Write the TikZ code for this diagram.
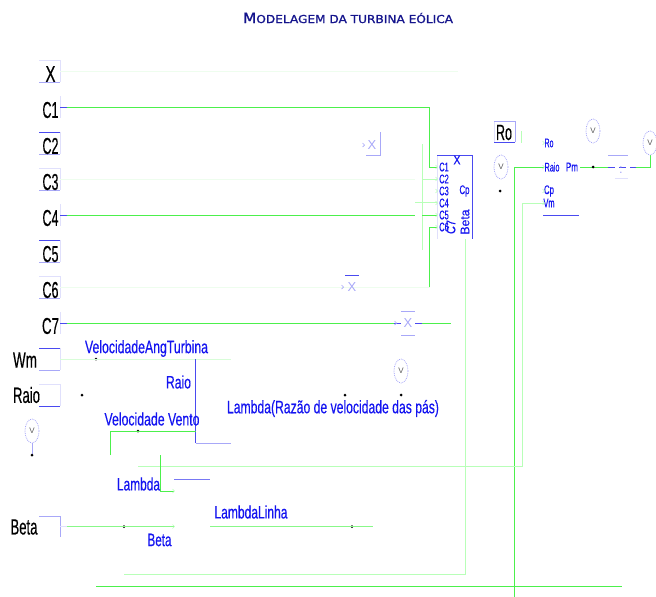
\documentclass[tikz,border=0pt]{standalone}
\usepackage{fontspec}
\usepackage{graphicx}
\setmainfont{Liberation Sans}
\newfontfamily\titlefont[FakeBold=1.2]{DejaVu Sans}
\newfontfamily\hvy[FakeBold=0.5]{Liberation Sans}
\usetikzlibrary{shapes.geometric}
\definecolor{gline}{HTML}{4CF04C}
\definecolor{gsoft}{HTML}{88F888}
\definecolor{gmid}{HTML}{B8FFB8}
\definecolor{gfaint}{HTML}{EEFDEE}
\definecolor{gpale}{HTML}{D8FDD8}
\definecolor{bline}{HTML}{4A4AF0}
\definecolor{bsoft}{HTML}{7878F4}
\definecolor{bmid}{HTML}{A8A8F8}
\definecolor{bfaint}{HTML}{E0E0FC}
\definecolor{lblue}{HTML}{1414F0}
\definecolor{navy}{HTML}{14148C}
\newcommand{\fw}[3]{\resizebox{#1pt}{\height}{\hvy\fontsize{#2}{#2}\selectfont #3}}
\tikzset{
  x=1pt,y=-1pt,
  wire/.style={draw=gline,line width=1pt},
  wiresoft/.style={draw=gsoft,line width=1pt},
  wiremid/.style={draw=gmid,line width=1pt},
  wirefaint/.style={draw=gfaint,line width=1pt},
  wirepale/.style={draw=gpale,line width=1pt},
  edge blue/.style={draw=bline,line width=1pt},
  edge soft/.style={draw=bsoft,line width=1pt},
  edge mid/.style={draw=bmid,line width=1pt},
  edge faint/.style={draw=bfaint,line width=1pt},
  lbl/.style={inner sep=0pt,text=lblue,anchor=center},
  blk/.style={inner sep=0pt,text=black,anchor=center},
  pin/.style={inner sep=0pt,text=lblue,anchor=center},
  dot/.style={circle,fill=black,inner sep=0pt,minimum size=3pt},
  probe/.style={ellipse,draw=bmid,densely dotted,line width=0.8pt,minimum width=14pt,minimum height=24pt,inner sep=0pt,text=black!65,font=\fontsize{8}{8}\selectfont},
  gainx/.style={inner sep=0pt,text=bmid,font=\fontsize{13}{13}\selectfont},
  chev/.style={draw=gmid,line width=0.6pt},
  chevb/.style={draw=bmid,line width=0.7pt}
}
\begin{document}
\begin{tikzpicture}
\useasboundingbox (0,0) rectangle (656,597);
% title
\node[inner sep=0pt,text=navy] (title) at (348,18) {\resizebox{210pt}{\height}{\titlefont{\fontsize{14}{14}\selectfont M}{\fontsize{11}{11}\selectfont ODELAGEM DA TURBINA EÓLICA}}};
% anchors
\coordinate (xin) at (60,71); \coordinate (xend) at (458,71);
\coordinate (c1in) at (67,107); \coordinate (c1t) at (429.5,107); \coordinate (c1b) at (429.5,167);
\coordinate (c3in) at (60,179); \coordinate (c3e) at (415,179); \coordinate (c3s) at (422,179);
\coordinate (c4in) at (67,215); \coordinate (c4e) at (415,215);
\coordinate (c6in) at (60,287); \coordinate (c6c) at (429.5,287); \coordinate (c6t) at (429.5,227);
\coordinate (c7in) at (67,323); \coordinate (c7a) at (394,323); \coordinate (c7b) at (422,323); \coordinate (c7e) at (451,323);
\coordinate (p1) at (437,167); \coordinate (p2) at (437,179); \coordinate (p3) at (437,191);
\coordinate (p4) at (437,202.5); \coordinate (p5) at (437,215); \coordinate (p6) at (437,227);
\coordinate (busa) at (422,144); \coordinate (busb) at (422,250); \coordinate (p5s) at (422,215);
\coordinate (p4s) at (415,202.5);
% block
\coordinate (bTL) at (437,155); \coordinate (bTR) at (472.5,155); \coordinate (bBR) at (472.5,239); \coordinate (bBL) at (437,239);
\draw[edge faint] (bTL) -- (bBL);
\draw[edge blue] (bTL) -- (bTR) -- (bBR);
% left input boxes
\foreach \n/\yy in {x/71,c3/179,c6/287}{
  \draw[edge faint] (39,\yy-11) -- (60,\yy-11) -- (60,\yy+11);
}
\draw[edge faint] (60,96) -- (60,118);
\draw[edge faint] (60,204) -- (60,226);
\draw[edge faint] (60,312) -- (60,334);
\draw[edge faint] (60,132) -- (60,154);
\draw[edge faint] (60,240) -- (60,262);
\draw[edge mid] (39,82) -- (60,82);
\draw[edge blue] (39,132) -- (60,132);
\draw[edge mid] (39,154) -- (60,154);
\draw[edge mid] (39,190) -- (60,190);
\draw[edge blue] (39,240) -- (60,240);
\draw[edge mid] (39,262) -- (60,262);
\draw[edge mid] (39,298) -- (60,298);
\draw[edge blue] (60,107) -- (c1in);
\draw[edge blue] (60,215) -- (c4in);
\draw[edge blue] (60,323) -- (c7in);
\foreach \t/\yy/\w in {X/74/10,C1/110/16,C2/146/16,C3/182/16,C4/218/16,C5/254/16,C6/290/16,C7/326/17}{
  \node[blk] (in\t) at (50.5,\yy) {\fw{\w}{23}{\t}};
}
% wires
\draw[wirefaint] (xin) -- (xend);
\draw[wire] (c1in) -- (c1t) -- (c1b) -- (p1);
\draw[wirefaint] (c3in) -- (c3e);
\draw[wiremid] (c3s) -- (p2);
\draw[wire] (c4in) -- (c4e);
\draw[wiremid] (busa) -- (busb);
\draw[wire] (p5s) -- (p5);
\draw[wiremid] (p4s) -- (p4);
\draw[wirefaint] (c6in) -- (c6c);
\draw[wire] (c6c) -- (c6t) -- (p6);
\draw[wire] (c7in) -- (c7a);
\draw[edge blue] (c7a) -- (401,323);
\draw[edge blue] (415,323) -- (c7b);
\draw[wire] (c7b) -- (c7e);
% block labels
\foreach \t/\yy in {C1/167,C2/179,C3/191,C4/203,C5/215,C6/227}{
  \node[pin] (pin\t) at (444,\yy) {\fw{9.5}{12.5}{\t}};
}
\node[pin] (blkx) at (457,160) {\fw{7}{12.5}{X}};
\node[pin] (blkcp) at (464.5,191) {\fw{10}{12.5}{Cp}};
\node[pin,rotate=90] (blkbeta) at (465,222) {\fw{25}{12.5}{Beta}};
\node[pin,rotate=90] (blkc7) at (451,227) {\fw{14}{12.5}{C7}};
% beta return
\coordinate (br1) at (465.5,239); \coordinate (br2) at (465.5,574.5); \coordinate (br3) at (124,574.5);
\draw[wiremid] (br1) -- (br2) -- (br3);
% bottom
\coordinate (ba) at (96,586); \coordinate (bb) at (622,586);
\draw[wire] (ba) -- (bb);
\coordinate (ra) at (514.5,597); \coordinate (rb) at (514.5,167); \coordinate (rc) at (544,167);
\draw[wire] (ra) -- (rb) -- (rc);
\coordinate (la) at (138,466.5); \coordinate (lb) at (522,466.5); \coordinate (lc) at (522,203); \coordinate (ld) at (544,203);
\draw[wiremid] (la) -- (lb) -- (lc) -- (ld);
% Ro
\draw[edge faint] (494,121) -- (494,142);
\draw[edge mid] (494,121) -- (515,121) -- (515,142);
\draw[edge blue] (494,142) -- (515,142);
\node[blk] (ro) at (504,132.5) {\fw{16}{22}{Ro}};
\coordinate (rot) at (521.5,131); \coordinate (rob) at (521.5,143);
\draw[wiremid] (rot) -- (rob);
% right block
\node[pin] (rRo) at (549,143) {\fw{9}{12.5}{Ro}};
\node[pin] (rRaio) at (552,167) {\fw{15}{12.5}{Raio}};
\node[pin] (rPm) at (572,167) {\fw{12}{12.5}{Pm}};
\node[pin] (rCp) at (549,191) {\fw{10}{12.5}{Cp}};
\node[pin] (rVm) at (549,203) {\fw{11}{12.5}{Vm}};
\coordinate (rbl) at (543,215); \coordinate (rbr) at (579,215);
\draw[edge blue] (rbl) -- (rbr);
% Pm output
\coordinate (pm) at (580,167); \coordinate (pa) at (608,167); \coordinate (pb) at (636,167); \coordinate (pc) at (650,167); \coordinate (pd) at (650,155);
\draw[wire] (pm) -- (pa);
\draw[edge blue,dash pattern=on 7pt off 4pt] (pa) -- (pb);
\draw[wire] (pb) -- (pc) -- (pd);
% gain symbols
\draw[edge mid] (608,155) -- (628,155);
\draw[edge faint] (615,178) -- (628,178);
\node[gainx] (g4) at (621,170) {:};
\draw[edge mid] (380.5,132) -- (380.5,155) -- (366,155);
\node[gainx] (g1) at (372,145) {X};
\draw[edge blue] (345,275) -- (359,275);
\node[gainx] (g2) at (352,287) {X};
\draw[edge mid] (401,311) -- (415,311);
\draw[edge mid] (401,335) -- (415,335);
\node[gainx] (g3) at (408,323) {X};
\foreach \p/\q in {364/145,343/287,396/323}{
  \draw[chevb] (\p-1.5,\q-2) -- (\p+0.5,\q) -- (\p-1.5,\q+2);
}
% probes
\node[probe] (v1) at (593,131) {V};
\node[probe] (v2) at (650,143) {V};
\node[probe] (v3) at (501,167) {V};
\node[probe] (v4) at (401,371) {V};
\node[probe] (v5) at (32,431) {V};
\draw[draw=bmid,line width=0.8pt] (v5.south) -- (32,455);
% dots
\foreach \p/\q/\n in {96/359/d1,82/395/d2,32/455/d3,138/431/d4,124/526.5/d5,352/526.5/d6,345/395/d7,401/395/d8,500/191/d9,593/167/d10}{
  \node[dot] (\n) at (\p,\q) {};
}
% lower-left boxes
\draw[edge faint] (60,348) -- (60,370);
\draw[edge blue] (39,348) -- (60,348);
\draw[edge mid] (39,370) -- (60,370);
\draw[edge faint] (39,384) -- (60,384) -- (60,406);
\draw[edge blue] (39,406) -- (60,406);
\draw[edge mid] (39,516) -- (60,516) -- (60,537);
\node[blk] (lWm) at (25,360) {\fw{24}{22}{Wm}};
\node[blk] (lRaio) at (26.5,395) {\fw{27}{22}{Raio}};
\node[blk] (lBeta) at (24,527) {\fw{27}{22}{Beta}};
% lambda section
\coordinate (wm) at (60,359); \coordinate (wme) at (231,359);
\draw[wirepale] (wm) -- (wme);
\coordinate (pt) at (195.5,359); \coordinate (pb2) at (195.5,443); \coordinate (pe) at (231,443);
\draw[edge blue] (pt) -- (pb2);
\draw[edge mid] (pb2) -- (pe);
\coordinate (vv) at (110,455); \coordinate (vc) at (110,431); \coordinate (ve) at (195.5,431);
\draw[wire] (vv) -- (vc) -- (ve);
\coordinate (ma) at (160,455); \coordinate (mb) at (160,491); \coordinate (mc) at (174,491);
\draw[wire] (ma) -- (mb) -- (mc);
\coordinate (ta) at (174,479); \coordinate (tb) at (210,479);
\draw[edge soft] (ta) -- (tb);
\coordinate (bi) at (60,526.5); \coordinate (bb2) at (67,526.5); \coordinate (be) at (174,526.5);
\draw[edge faint] (bi) -- (bb2);
\draw[wiresoft] (bb2) -- (be);
\coordinate (ls) at (210,526.5); \coordinate (le) at (372.5,526.5);
\draw[wiresoft] (ls) -- (le);
\foreach \p/\q in {174/491,174/526.5,437/167,437/179,437/191,437/203,437/215,437/227,544/143,544/167,544/191,544/203}{
  \draw[chev] (\p-1.5,\q-2) -- (\p+0.5,\q) -- (\p-1.5,\q+2);
}
% labels
\node[lbl] (tAng) at (146.5,348.5) {\fw{123}{18}{VelocidadeAngTurbina}};
\node[lbl] (tRaio) at (178.5,382) {\fw{25}{18}{Raio}};
\node[lbl] (tVento) at (152,419) {\fw{95}{18}{Velocidade Vento}};
\node[lbl] (tLam) at (333,408.5) {\fw{212}{18}{Lambda(Razão de velocidade das pás)}};
\node[lbl] (tLa) at (138.5,484) {\fw{43}{18}{Lambda}};
\node[lbl] (tBe) at (159.5,540) {\fw{24}{18}{Beta}};
\node[lbl] (tLL) at (251,512) {\fw{73}{18}{LambdaLinha}};
\end{tikzpicture}
\end{document}
